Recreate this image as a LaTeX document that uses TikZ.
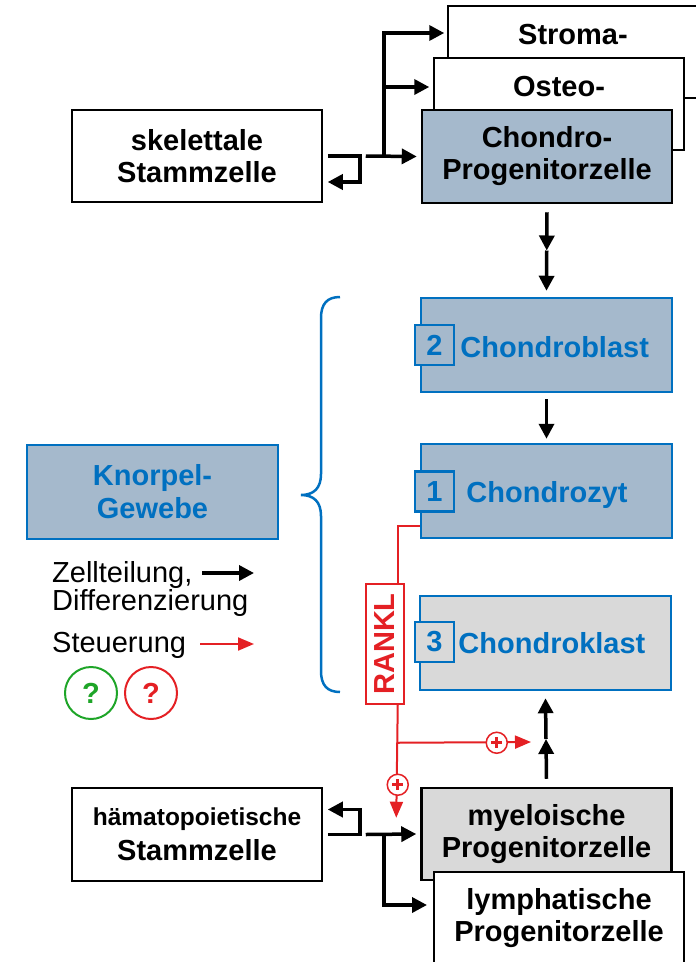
\documentclass[tikz,border=0pt]{standalone}
\usepackage{fontspec}
\setmainfont{Liberation Sans}
\usepackage{graphicx}
\usetikzlibrary{arrows.meta}
\usetikzlibrary{positioning}
\usetikzlibrary{calc}

\definecolor{rot}{RGB}{228,32,36}
\definecolor{zellblau}{RGB}{0,112,192}
\definecolor{zellfuell}{RGB}{165,185,204}
\definecolor{grau}{RGB}{217,217,217}
\definecolor{gruen}{RGB}{30,165,40}

\begin{document}
\begin{tikzpicture}[x=1pt,y=-1pt]
\tikzstyle{kasten} = [rectangle, draw=black, fill=white, line width=1.5pt, minimum width=250pt, minimum height=92pt, align=center, inner sep=0pt, font=\bfseries\fontsize{29}{32}\selectfont]
\tikzstyle{blaukasten} = [kasten, draw=zellblau, fill=zellfuell, line width=2.5pt, minimum width=251pt, minimum height=94pt, text=zellblau]
\tikzstyle{nummer} = [blaukasten, minimum width=39pt, minimum height=40pt]
\tikzstyle{zelltext} = [inner sep=0pt, font=\bfseries\fontsize{29}{30}\selectfont]
\tikzstyle{legende} = [inner sep=0pt, font=\fontsize{29}{30}\selectfont]
\tikzstyle{zellpfeil} = [line width=3.5pt, -{Triangle[length=15pt,width=15pt]}]
\tikzstyle{steuerlinie} = [rot, line width=2pt]
\tikzstyle{steuerpfeil} = [steuerlinie, -{Triangle[length=16pt,width=13pt]}]
\tikzstyle{pluskreis} = [circle, draw=rot, fill=white, line width=1.5pt, minimum size=21pt, inner sep=0pt,
  path picture={\draw[rot, line width=3pt]
    ($(path picture bounding box.center)+(-5.5,0)$) -- ($(path picture bounding box.center)+(5.5,0)$)
    ($(path picture bounding box.center)+(0,-5.5)$) -- ($(path picture bounding box.center)+(0,5.5)$);}]
\tikzstyle{frage} = [circle, line width=2pt, minimum size=52pt, inner sep=0pt, font=\bfseries\fontsize{29}{30}\selectfont]

\path[use as bounding box, clip] (0,0) rectangle (696,962);

% skelettale Linie
\node[kasten] (stroma) at (573,52) {};
\node[zelltext] (stromatxt) at ($(stroma)+(0,-17.5)$) {Stroma-};
\node[kasten] (osteo) at (559,104) {};
\node[zelltext] (osteotxt) at ($(osteo)+(0,-17.5)$) {Osteo-};
\node[kasten, fill=zellfuell, line width=2.5pt, minimum height=93pt] (prog) at (547,156.5) {Chondro-\\Progenitorzelle};
\node[kasten] (skel) at (197,156) {skelettale\\Stammzelle};

\coordinate (gabel) at ($(skel.east)+(61,0)$);
\draw[zellpfeil] ($(skel.east)+(5,0)$) -- ++(32,0) -- ++(0,26) -- ++(-32,0);
\draw[zellpfeil] ($(skel.east)+(43,0)$) -- ($(prog.west)+(-4,0)$);
\draw[zellpfeil] (gabel) |- ($(stroma.west)+(-3,-19)$);
\draw[zellpfeil] ($(gabel)+(0,-69)$) -- ($(osteo.west)+(-4,-17)$);

% Knorpel
\node[blaukasten] (blast) at (546.5,345) {};
\node[nummer] (tag2) at (434.5,345) {2};
\node[zelltext, text=zellblau, anchor=base west] (blasttxt) at ($(tag2.east)+(5,12)$) {Chondroblast};

\node[blaukasten] (zyt) at (546.5,491) {};
\node[nummer] (tag1) at (434.5,491.5) {1};
\node[zelltext, text=zellblau, anchor=base west] (zyttxt) at ($(tag1.east)+(11,10.5)$) {Chondrozyt};

\node[blaukasten, fill=grau] (klast) at (545.5,643) {};
\node[nummer, fill=grau] (tag3) at (434.5,642) {3};
\node[zelltext, text=zellblau, anchor=base west] (klasttxt) at ($(tag3.east)+(3,11)$) {Chondroklast};

\coordinate (mitte1) at ($(prog.south)!0.5!(blast.north)$);
\draw[zellpfeil] ($(prog.south)+(0,8)$) -- (mitte1);
\draw[zellpfeil] (mitte1) -- ($(blast.north)+(0,-6)$);
\draw[zellpfeil] ($(blast.south)+(0,6)$) -- ($(zyt.north)+(0,-4)$);

\node[blaukasten, font=\bfseries\fontsize{29}{33}\selectfont] (knorpel) at (152.5,492) {Knorpel-\\Gewebe};
\draw[zellblau, line width=2.5pt] (340,297) .. controls (327,297) and (321,304) .. (321,318) -- (321,474)
  .. controls (321,488) and (314,495) .. (301,495) .. controls (314,495) and (321,502) .. (321,516)
  -- (321,671) .. controls (321,685) and (327,692) .. (340,692);

% Legende
\node[legende, anchor=base west] (zellteilung) at (52,582) {Zellteilung,};
\node[legende, anchor=base west] (differenz) at (52,610) {Differenzierung};
\node[legende, anchor=base west] (steuerung) at (52,652) {Steuerung};
\coordinate (zp1) at (202,573);
\coordinate (zp2) at (254,573);
\draw[zellpfeil] (zp1) -- (zp2);
\coordinate (sp1) at (200,644);
\coordinate (sp2) at (254,644);
\draw[steuerpfeil] (sp1) -- (sp2);
\node[frage, draw=gruen, text=gruen] (fgruen) at (91,693) {?};
\node[frage, draw=rot, text=rot, right=6pt of fgruen] (frot) {?};

% haematopoietische Linie
\node[kasten, minimum height=93pt] (hemato) at (197,834.5) {{\fontsize{24.5}{30}\selectfont hämatopoietische}\\[3pt]Stammzelle};
\node[kasten, fill=grau, line width=2.5pt] (myel) at (546.5,834) {myeloische\\Progenitorzelle};
\node[kasten, line width=2pt, minimum height=93pt] (lymph) at (559,918) {lymphatische\\Progenitorzelle};

\draw[zellpfeil] ($(hemato.east)+(5,0)$) -- ++(32,0) -- ++(0,-25) -- ++(-32,0);
\draw[zellpfeil] ($(hemato.east)+(43,0)$) -- ($(myel.west)+(-4,0)$);
\draw[zellpfeil] ($(hemato.east)+(61,0)$) |- ($(lymph.west)+(-6,-13)$);

\coordinate (mitte2) at ($(myel.north)!0.5!(klast.south)$);
\draw[zellpfeil] ($(myel.north)+(0,-8)$) -- (mitte2);
\draw[zellpfeil] (mitte2) -- ($(klast.south)+(0,7)$);

% RANKL
\node[kasten, draw=rot, minimum width=38pt, minimum height=120pt, text=rot] (rankl) at (385,644) {\rotatebox{90}{RANKL}};
\coordinate (abzweig) at ($(rankl.south east)+(-7,38)$);
\draw[steuerlinie] ($(zyt.south west)+(0,-13)$) -| ($(rankl.north east)+(-7,0)$);
\draw[steuerpfeil] ($(rankl.south east)+(-7,0)$) -- ($(myel.north west)+(-24,31)$);
\draw[steuerpfeil] (abzweig) -- ($(mitte2)+(-15,3)$);
\node[pluskreis] (plus1) at ($(abzweig)+(0,42)$) {};
\node[pluskreis] (plus2) at ($(abzweig)+(99,0)$) {};
\end{tikzpicture}
\end{document}
